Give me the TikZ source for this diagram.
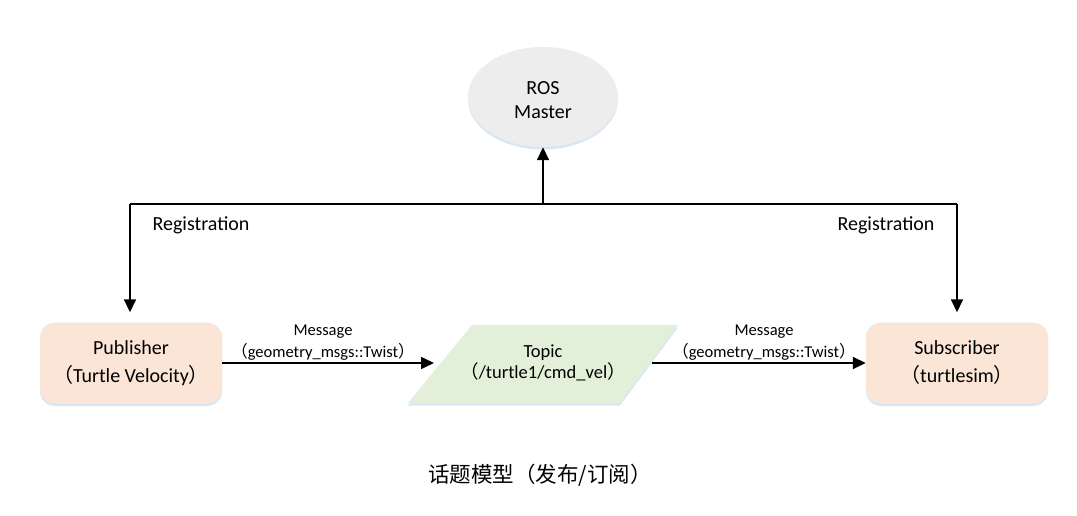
\documentclass[tikz,border=0pt]{standalone}
\usepackage{fontspec}
\setmainfont{Carlito}
\newfontfamily\cjkfont{Noto Sans CJK SC}
\usetikzlibrary{arrows.meta,shadows,shapes.geometric}
\newcommand{\lparcjk}{{\cjkfont （}}
\newcommand{\rparcjk}{{\cjkfont ）}}
\definecolor{peach}{HTML}{FBE5D6}
\definecolor{lgreen}{HTML}{E2F0D9}
\definecolor{lgrey}{HTML}{EDEDED}
\definecolor{glow}{HTML}{D6E4F3}
\begin{document}
\begin{tikzpicture}[x=1pt,y=-1pt,
  arr/.style={line width=1.6pt,-{Triangle[length=13pt,width=12pt]}},
  plain/.style={line width=1.6pt},
  glowshadow/.style={drop shadow={fill=glow,shadow xshift=0pt,shadow yshift=-2.5pt,opacity=0.9}},
  nodebox/.style={rounded corners=15pt,fill=peach,minimum width=182pt,minimum height=81pt,
    align=center,font=\fontsize{20}{28}\selectfont,glowshadow},
  msg/.style={align=center,font=\fontsize{16.5}{22}\selectfont},
  reg/.style={font=\fontsize{20}{24}\selectfont}]
\fill[white] (0,0) rectangle (1077,516);
\useasboundingbox (0,0) rectangle (1077,516);

% ROS master
\node[ellipse,fill=lgrey,minimum width=150pt,minimum height=100pt,glowshadow] (master) at (543,97) {};
\node[align=center,font=\fontsize{20}{24}\selectfont] (mastertext) at (543,100) {ROS\\Master};

% publisher / subscriber
\node[nodebox] (pub) at (131,363) {Publisher\\\lparcjk Turtle Velocity\rparcjk};
\node[nodebox] (sub) at (957,363) {Subscriber\\\lparcjk turtlesim\rparcjk};

% topic
\fill[lgreen,glowshadow] (472,325) -- (678,325) -- (620,403) -- (408,403) -- cycle;
\node[align=center,font=\fontsize{18.5}{21.5}\selectfont] (topic) at (543,363) {Topic\\\lparcjk/turtle1/cmd\_vel\rparcjk};
\coordinate (tin) at (434,363);
\coordinate (tout) at (652,363);

% registration lines
\coordinate (j) at (543,204);
\coordinate (lc) at (130,204);
\coordinate (rc) at (957,204);
\draw[plain] (lc) -- (rc);
\draw[arr] (j) -- (master.south);
\draw[arr,shorten >=10pt] (lc) -- (lc |- pub.north);
\draw[arr,shorten >=10pt] (rc) -- (sub.north);
\node[reg] (regl) at (201,225) {Registration};
\node[reg] (regr) at (886,225) {Registration};

% messages
\draw[arr] (pub.east |- tin) -- (tin);
\draw[arr] (tout) -- (sub.west |- tout);
\node[msg] (m1) at (323,343) {Message\\\lparcjk geometry\_msgs::Twist\rparcjk};
\node[msg] (m2) at (764,343) {Message\\\lparcjk geometry\_msgs::Twist\rparcjk};

% caption
\node[font=\cjkfont\fontsize{21.5}{24}\selectfont] (cap) at (540,475) {话题模型（发布/订阅）};
\end{tikzpicture}
\end{document}
